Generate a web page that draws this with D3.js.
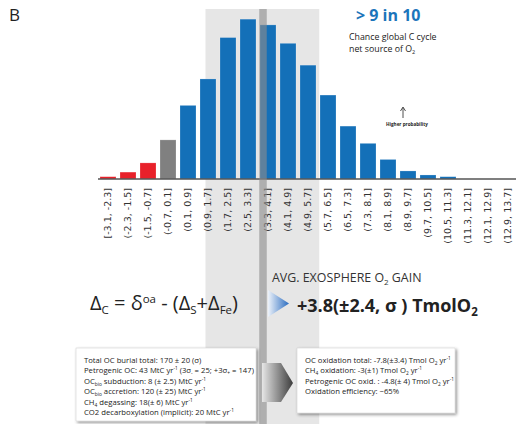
<!DOCTYPE html>
<html>
<head>
<meta charset="utf-8">
<script src="https://cdn.jsdelivr.net/npm/d3@7"></script>
<style>
  body { margin: 0; background: #fff; }
  svg { display: block; font-family: "Open Sans", sans-serif; }
</style>
</head>
<body>
<div id="chart"></div>
<script>
// bins of the O2 balance distribution (Tmol O2 / yr)
var binLabels = ["[-3.1, -2.3]", "(-2.3, -1.5]", "(-1.5, -0.7]", "(-0.7, 0.1]", "(0.1, 0.9]",
    "(0.9, 1.7]", "(1.7, 2.5]", "(2.5, 3.3]", "(3.3, 4.1]", "(4.1, 4.9]", "(4.9, 5.7]",
    "(5.7, 6.5]", "(6.5, 7.3]", "(7.3, 8.1]", "(8.1, 8.9]", "(8.9, 9.7]", "(9.7, 10.5]",
    "(10.5, 11.3]", "(11.3, 12.1]", "(12.1, 12.9]", "(12.9, 13.7]"];
// probability of each bin (%)
var binProb = [0.2, 0.6, 1.4, 3.4, 6.4, 8.7, 12.3, 13.9, 13.4, 11.8, 9.9,
    7.3, 4.6, 3.1, 1.7, 0.7, 0.35, 0.2, 0, 0, 0];
// sink / neutral / source
var binKind = ["sink", "sink", "sink", "neutral", "source", "source", "source", "source",
    "source", "source", "source", "source", "source", "source", "source", "source",
    "source", "source", "source", "source", "source"];
var valueDomain = [-3.1, 13.7];
var sigmaRange = [1.2, 5.75];
var meanRange = [3.35, 3.65];

var kindColor = {sink: "#e8212a", neutral: "#808080", source: "#1470b8"};

var W = 516, H = 424;
var svg = d3.select("#chart").append("svg")
    .attr("width", W)
    .attr("height", H);

var defs = svg.append("defs");
var shadow = defs.append("filter").attr("id", "shadow")
    .attr("x", "-10%").attr("y", "-10%").attr("width", "130%").attr("height", "140%");
shadow.append("feDropShadow")
    .attr("dx", 1.5).attr("dy", 1.5).attr("stdDeviation", 1.4)
    .attr("flood-color", "#000").attr("flood-opacity", 0.45);

var blueGrad = defs.append("linearGradient").attr("id", "blueGrad");
blueGrad.append("stop").attr("offset", "0%").attr("stop-color", "#eef3fa");
blueGrad.append("stop").attr("offset", "100%").attr("stop-color", "#2a6cc0");

var grayGrad = defs.append("linearGradient").attr("id", "grayGrad");
grayGrad.append("stop").attr("offset", "0%").attr("stop-color", "#e6e6e6");
grayGrad.append("stop").attr("offset", "100%").attr("stop-color", "#3c3c3c");

// scales
var x = d3.scaleBand()
    .domain(binLabels)
    .range([98, 518])
    .paddingInner(0.2)
    .paddingOuter(0.1);
var xv = d3.scaleLinear().domain(valueDomain).range([98, 518]);
var y = d3.scaleLinear().domain([0, 14]).range([179, 18]);

// +/- sigma shading
svg.append("rect")
    .attr("x", xv(sigmaRange[0]))
    .attr("y", 9)
    .attr("width", xv(sigmaRange[1]) - xv(sigmaRange[0]))
    .attr("height", H - 9)
    .attr("fill", "#e6e6e6");

// bars
svg.append("g")
    .selectAll("rect")
    .data(binLabels)
    .enter()
    .append("rect")
    .attr("x", function (d) { return x(d); })
    .attr("y", function (d, i) { return y(binProb[i]); })
    .attr("width", x.bandwidth())
    .attr("height", function (d, i) { return y(0) - y(binProb[i]); })
    .attr("fill", function (d, i) { return kindColor[binKind[i]]; })
    .attr("stroke", function (d, i) { return binProb[i] > 0 ? "rgba(255,255,255,0.35)" : "none"; })
    .attr("stroke-width", 0.6);

// axis
var axis = svg.append("g")
    .attr("transform", "translate(0," + y(0) + ")")
    .call(d3.axisBottom(x).tickSize(0));
axis.select(".domain").remove();
axis.selectAll("text")
    .attr("transform", "rotate(-90)")
    .attr("x", -9)
    .attr("y", 0)
    .attr("dy", "0.35em")
    .style("text-anchor", "end")
    .style("font-family", "DejaVu Sans, sans-serif")
    .style("font-size", "9.5px")
    .attr("fill", "#333");
svg.append("line")
    .attr("x1", 98).attr("x2", W)
    .attr("y1", y(0)).attr("y2", y(0))
    .attr("stroke", "#555")
    .attr("stroke-width", 1.4);

// mean band
svg.append("rect")
    .attr("x", xv(meanRange[0]))
    .attr("y", 9)
    .attr("width", xv(meanRange[1]) - xv(meanRange[0]))
    .attr("height", H - 9)
    .attr("fill", "#8c8c8c")
    .attr("opacity", 0.62);

// panel letter
svg.append("text")
    .attr("x", 9).attr("y", 21)
    .attr("font-size", 17)
    .attr("fill", "#222")
    .text("B");

// headline
svg.append("text")
    .attr("x", 356).attr("y", 21)
    .attr("font-size", 16)
    .attr("font-weight", "bold")
    .attr("fill", "#1b75bb")
    .text("> 9 in 10");

svg.append("text")
    .attr("x", 349).attr("y", 40)
    .attr("font-size", 8.8)
    .attr("fill", "#222")
    .text("Chance global C cycle");
var ns = svg.append("text")
    .attr("x", 349).attr("y", 51.5)
    .attr("font-size", 8.8)
    .attr("fill", "#222");
ns.append("tspan").text("net source of O");
ns.append("tspan").attr("font-size", 5.5).attr("dy", 2).text("2");

// higher probability arrow
svg.append("line")
    .attr("x1", 403).attr("x2", 403)
    .attr("y1", 118).attr("y2", 108)
    .attr("stroke", "#222").attr("stroke-width", 0.8);
svg.append("path")
    .attr("d", "M400.5,111 L403,107 L405.5,111")
    .attr("fill", "none").attr("stroke", "#222").attr("stroke-width", 0.8);
svg.append("text")
    .attr("x", 407).attr("y", 126)
    .attr("text-anchor", "middle")
    .attr("font-size", 4.6)
    .attr("font-weight", "bold")
    .attr("fill", "#222")
    .text("Higher probability");

// formula
var f = svg.append("text")
    .attr("x", 90).attr("y", 310)
    .attr("font-size", 20)
    .attr("fill", "#222");
f.append("tspan").text("Δ");
f.append("tspan").attr("font-size", 11.5).attr("dy", 4).text("C");
f.append("tspan").attr("dy", -4).text(" = δ");
f.append("tspan").attr("font-size", 11.5).attr("dy", -7).text("oa");
f.append("tspan").attr("dy", 7).text(" - (Δ");
f.append("tspan").attr("font-size", 11.5).attr("dy", 4).text("S");
f.append("tspan").attr("dy", -4).text("+Δ");
f.append("tspan").attr("font-size", 11.5).attr("dy", 4).text("Fe");
f.append("tspan").attr("dy", -4).text(")");

// gain text
var g1 = svg.append("text")
    .attr("x", 272).attr("y", 282)
    .attr("font-size", 12.4)
    .attr("fill", "#333");
g1.append("tspan").text("AVG. EXOSPHERE O");
g1.append("tspan").attr("font-size", 8).attr("dy", 3).text("2");
g1.append("tspan").attr("dy", -3).text(" GAIN");

svg.append("path")
    .attr("d", "M268,290 L289,303.5 L268,317 Z")
    .attr("fill", "url(#blueGrad)");

var g2 = svg.append("text")
    .attr("x", 297).attr("y", 312)
    .attr("font-size", 18)
    .attr("font-weight", "bold")
    .attr("fill", "#222");
g2.append("tspan").text("+3.8(±2.4, σ ) TmolO");
g2.append("tspan").attr("font-size", 11.5).attr("dy", 4).text("2");

// gray connector arrow
svg.append("path")
    .attr("d", "M262,363 L281,363 L293,383 L281,402 L262,402 Z")
    .attr("fill", "url(#grayGrad)");

// boxes
function box(x0, y0, w, h, lines) {
    svg.append("rect")
        .attr("x", x0).attr("y", y0)
        .attr("width", w).attr("height", h)
        .attr("fill", "#fff")
        .attr("stroke", "#ccc")
        .attr("stroke-width", 0.5)
        .attr("filter", "url(#shadow)");
    lines.forEach(function (parts, i) {
        var t = svg.append("text")
            .attr("x", x0 + 8).attr("y", y0 + 15 + i * 10.4)
            .attr("font-size", 7.7)
            .attr("fill", "#222");
        var shift = 0;
        parts.forEach(function (p) {
            var s = typeof p === "string" ? {t: p, s: 0} : p;
            var ts = t.append("tspan").text(s.t).attr("dy", s.s - shift);
            if (s.s !== 0) ts.attr("font-size", 4.8);
            shift = s.s;
        });
    });
}

box(76, 348, 180, 73, [
    ["Total OC burial total: 170 ± 20 (σ)"],
    ["Petrogenic OC: 43 MtC yr", {t: "-1", s: -3}, " (3σ", {t: "-", s: 2}, " = 25; +3σ", {t: "+", s: 2}, " = 147)"],
    ["OC", {t: "bio", s: 2}, " subduction: 8 (± 2.5) MtC yr", {t: "-1", s: -3}],
    ["OC", {t: "bio", s: 2}, " accretion: 120 (± 25) MtC yr", {t: "-1", s: -3}],
    ["CH", {t: "4", s: 2}, " degassing: 18(± 6) MtC yr", {t: "-1", s: -3}],
    ["CO2 decarboxylation (implicit): 20 MtC yr", {t: "-1", s: -3}]
]);

box(297, 348, 158, 65, [
    ["OC oxidation total: -7.8(±3.4) Tmol O", {t: "2", s: 2}, " yr", {t: "-1", s: -3}],
    ["CH", {t: "4", s: 2}, " oxidation: -3(±1) Tmol O", {t: "2", s: 2}, " yr", {t: "-1", s: -3}],
    ["Petrogenic OC oxid. : -4.8(± 4) Tmol O", {t: "2", s: 2}, " yr", {t: "-1", s: -3}],
    ["Oxidation efficiency: ~65%"]
]);
</script>
</body>
</html>
